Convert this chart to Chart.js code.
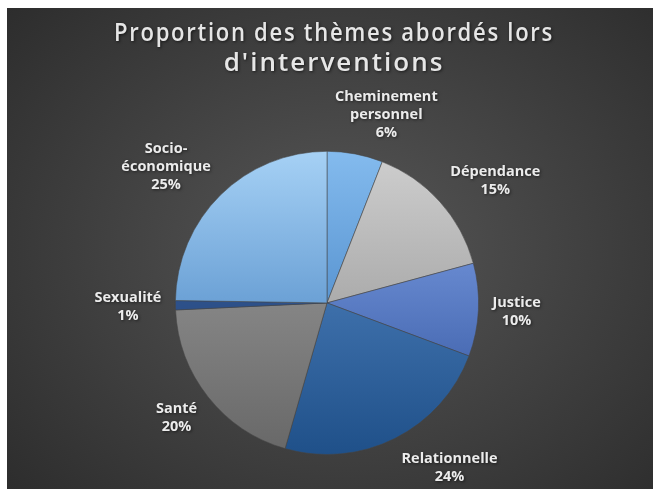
<!DOCTYPE html>
<html>
<head>
<meta charset="utf-8">
<script src="https://cdn.jsdelivr.net/npm/chart.js@4.4.0/dist/chart.umd.min.js"></script>
<style>
  html, body { margin: 0; padding: 0; background: #ffffff; }
  #wrap {
    position: absolute; left: 7px; top: 8px; width: 646px; height: 481px;
    background: radial-gradient(ellipse 75% 80% at 52% 50%, #575757 0%, #474747 35%, #2a2a2a 100%);
  }
  canvas { display: block; }
</style>
</head>
<body>
<div id="wrap"><canvas id="pie" width="646" height="481"></canvas></div>
<script>
// data
var themes = ['Cheminement personnel', 'Dépendance', 'Justice', 'Relationnelle', 'Santé', 'Sexualité', 'Socio-économique'];
var percents = [6, 15, 10, 24, 20, 1, 25];
// how each label is broken into lines
var labelLines = [['Cheminement', 'personnel'], ['Dépendance'], ['Justice'], ['Relationnelle'], ['Santé'], ['Sexualité'], ['Socio-', 'économique']];

// top / bottom colour of each slice gradient
var topColors = ['#84bbee', '#cfcfcf', '#89abf0', '#5c8fcc', '#a3a3a3', '#3a62a0', '#a6d1f5'];
var bottomColors = ['#2f6fb5', '#888888', '#2c4e98', '#1f5089', '#676767', '#203f73', '#3171b6'];

function sliceFill(ctx) {
    var chart = ctx.chart;
    var area = chart.chartArea;
    if (!area) return topColors[ctx.dataIndex];
    var g = chart.ctx.createLinearGradient(0, area.top, 0, area.bottom);
    g.addColorStop(0, topColors[ctx.dataIndex]);
    g.addColorStop(1, bottomColors[ctx.dataIndex]);
    return g;
}

// soft shadow + a bit of spacing on the title only
var titleShadow = {
    id: 'titleShadow',
    beforeDraw: function(chart) {
        var c = chart.ctx;
        c.save();
        c.translate(7, 0); // title sits a little right of the pie centre
        c.shadowColor = 'rgba(0,0,0,0.6)';
        c.shadowBlur = 3;
        c.shadowOffsetX = 1;
        c.shadowOffsetY = 1;
        c.letterSpacing = '2px';
    },
    beforeDatasetsDraw: function(chart) {
        chart.ctx.restore();
    }
};

// labels outside the pie, box edge a little away from the rim
var outsideLabels = {
    id: 'outsideLabels',
    afterDatasetsDraw: function(chart) {
        var c = chart.ctx;
        var arcs = chart.getDatasetMeta(0).data;
        var lineH = 18;
        c.save();
        c.font = 'bold 14.5px "Open Sans"';
        c.fillStyle = '#ececec';
        c.textAlign = 'center';
        c.textBaseline = 'alphabetic';
        c.shadowColor = 'rgba(0,0,0,0.55)';
        c.shadowBlur = 3;
        c.shadowOffsetX = 1;
        c.shadowOffsetY = 1;
        var capH = c.measureText('H').actualBoundingBoxAscent;
        arcs.forEach(function(arc, i) {
            var p = arc.getProps(['x', 'y', 'startAngle', 'endAngle', 'outerRadius'], true);
            var mid = (p.startAngle + p.endAngle) / 2;
            var dx = Math.cos(mid), dy = Math.sin(mid);
            var lines = labelLines[i].concat([percents[i] + '%']);
            var w = 0;
            lines.forEach(function(t) { w = Math.max(w, c.measureText(t).width); });
            var h = lines.length * lineH;
            var r = p.outerRadius + 14;
            var push = Math.min(1, Math.abs(dx) * 3) * (dx < 0 ? -1 : 1);
            var cx = p.x + dx * r + push * w / 2;
            var cy = p.y + dy * r + dy * h / 2;
            lines.forEach(function(t, k) {
                c.fillText(t, cx, cy - h / 2 + lineH / 2 + k * lineH + capH / 2);
            });
        });
        c.restore();
    }
};

new Chart(document.getElementById('pie'), {
    type: 'pie',
    data: {
        labels: themes,
        datasets: [{
            data: percents,
            backgroundColor: sliceFill,
            borderColor: 'rgba(70,70,70,0.55)',
            borderWidth: 1,
            hoverOffset: 0
        }]
    },
    options: {
        responsive: false,
        animation: false,
        events: [],
        layout: { padding: { top: 0, bottom: 34, left: 100, right: 106 } },
        plugins: {
            legend: { display: false },
            tooltip: { enabled: false },
            title: {
                display: true,
                text: ["Proportion des thèmes abordés lors", "d'interventions"],
                color: '#e6e6e6',
                font: { family: 'Open Sans', size: 26, weight: '600', lineHeight: 1.15 },
                padding: { top: 11, bottom: 72 }
            }
        }
    },
    plugins: [titleShadow, outsideLabels]
});
</script>
</body>
</html>
